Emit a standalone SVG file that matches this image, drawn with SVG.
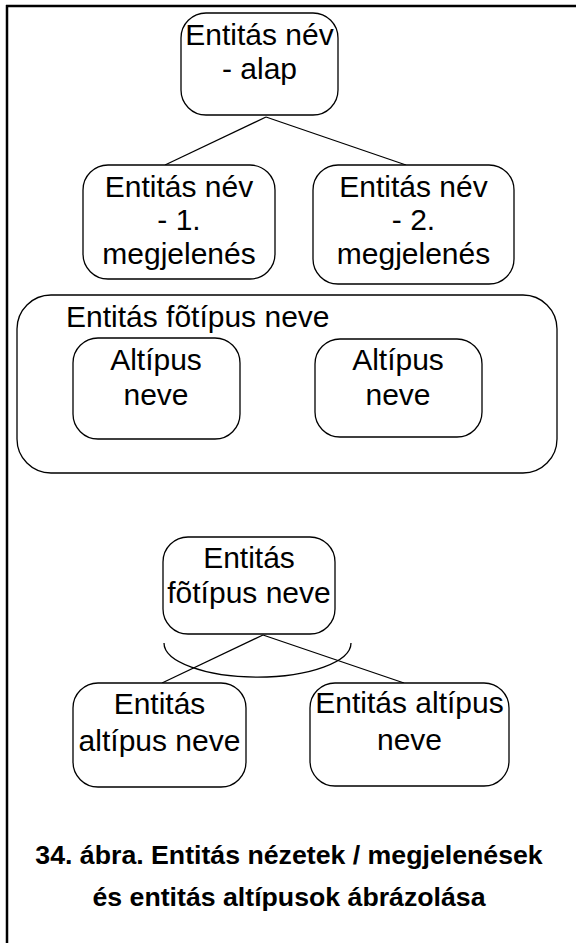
<svg xmlns="http://www.w3.org/2000/svg" width="576" height="943" viewBox="0 0 576 943">
<style>
.box{fill:#fff;stroke:#000;stroke-width:1.3}
.t{font-family:"Liberation Sans",Arial,sans-serif;font-size:30px;fill:#000;text-anchor:middle}
.cap{font-family:"Liberation Sans",Arial,sans-serif;font-size:26.7px;font-weight:bold;fill:#000;text-anchor:middle}
.ln{stroke:#000;stroke-width:1.3;fill:none}
</style>
<rect x="0" y="0" width="576" height="943" fill="#fff"/>
<g id="frame">
<line x1="6" y1="6" x2="576" y2="6" stroke="#000" stroke-width="2.5"/>
<line x1="7" y1="5" x2="7" y2="943" stroke="#000" stroke-width="2.5"/>
</g>
<g id="connectors">
<line class="ln" x1="266" y1="117" x2="165" y2="165"/>
<line class="ln" x1="266" y1="117" x2="406" y2="165"/>
<line class="ln" x1="263" y1="635" x2="162" y2="683"/>
<line class="ln" x1="263" y1="635" x2="404" y2="683"/>
<path class="ln" d="M164,643 A93,34 0 0 0 351,643"/>
</g>
<g id="n-alap">
<rect class="box" x="181" y="13" width="157" height="102" rx="25"/>
<text class="t" x="259.5" y="45">Entitás név</text>
<text class="t" x="259.5" y="79">- alap</text>
</g>
<g id="n-1">
<rect class="box" x="83" y="165" width="192" height="114" rx="25"/>
<text class="t" x="179" y="197">Entitás név</text>
<text class="t" x="179" y="230">- 1.</text>
<text class="t" x="179" y="264">megjelenés</text>
</g>
<g id="n-2">
<rect class="box" x="313" y="165" width="201" height="119" rx="25"/>
<text class="t" x="413.5" y="197">Entitás név</text>
<text class="t" x="413.5" y="230">- 2.</text>
<text class="t" x="413.5" y="264">megjelenés</text>
</g>
<g id="n-fotipus-big">
<rect class="box" x="17" y="295" width="540" height="178" rx="34"/>
<text class="t" x="66" y="327" style="text-anchor:start">Entitás fõtípus neve</text>
</g>
<g id="n-alt1">
<rect class="box" x="73" y="338" width="167" height="101" rx="25"/>
<text class="t" x="156" y="370">Altípus</text>
<text class="t" x="156" y="405">neve</text>
</g>
<g id="n-alt2">
<rect class="box" x="315" y="339" width="167" height="98" rx="25"/>
<text class="t" x="398" y="370">Altípus</text>
<text class="t" x="398" y="405">neve</text>
</g>
<g id="n-fotipus">
<rect class="box" x="163" y="537" width="172" height="97" rx="25"/>
<text class="t" x="249" y="568">Entitás</text>
<text class="t" x="249" y="603">fõtípus neve</text>
</g>
<g id="n-altipus1">
<rect class="box" x="73" y="683" width="173" height="104" rx="25"/>
<text class="t" x="159.5" y="714">Entitás</text>
<text class="t" x="159.5" y="751">altípus neve</text>
</g>
<g id="n-altipus2">
<rect class="box" x="310" y="683" width="199" height="103" rx="25"/>
<text class="t" x="409.5" y="713">Entitás altípus</text>
<text class="t" x="409.5" y="750">neve</text>
</g>
<g id="caption">
<text class="cap" x="289" y="864">34. ábra. Entitás nézetek / megjelenések</text>
<text class="cap" x="289" y="906">és entitás altípusok ábrázolása</text>
</g>
</svg>
